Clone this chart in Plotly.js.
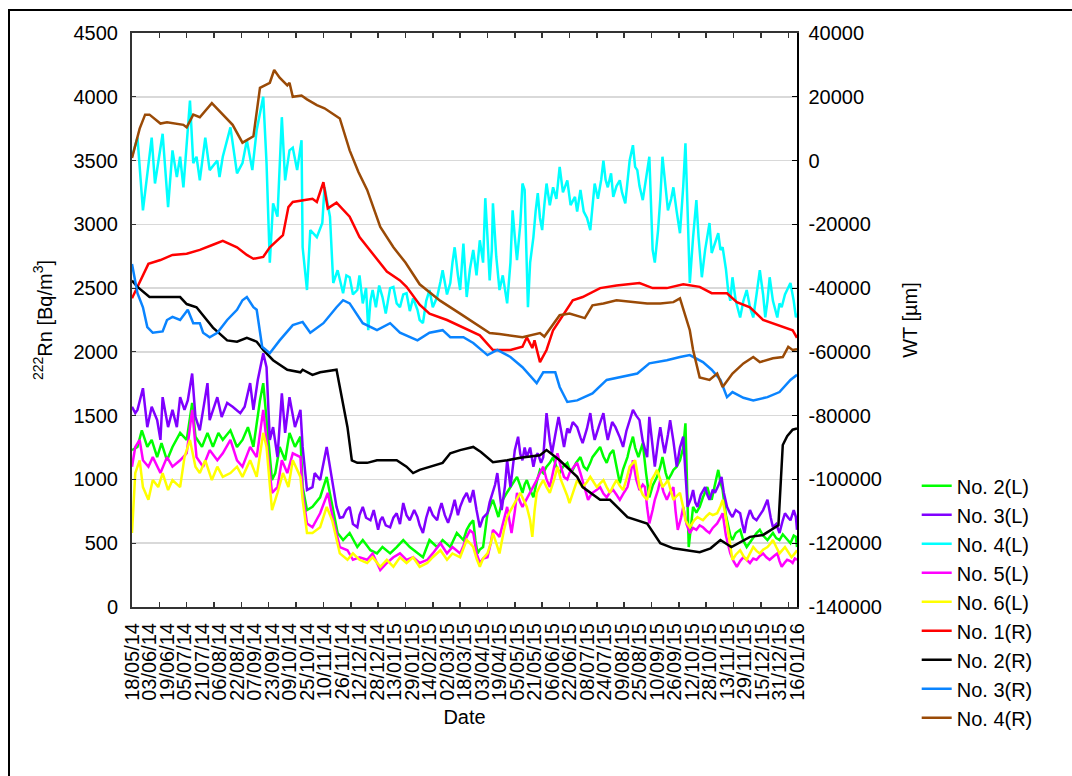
<!DOCTYPE html>
<html><head><meta charset="utf-8">
<script src="https://cdn.plot.ly/plotly-3.0.1.min.js"></script>
<style>
html,body{margin:0;padding:0;background:#fff;overflow:hidden;}
#chart{position:absolute;left:0;top:0;width:1072px;height:776px;}
#frame{position:absolute;left:8px;top:9px;width:1100px;height:800px;border:2px solid #000;box-sizing:border-box;pointer-events:none;}
</style></head><body>
<div id="chart"></div><div id="frame"></div>
<script>
// Dates: day offsets from 18/05/14
const startDate = '2014-05-18';
const endDate = '2016-01-16';
const xTickLabels = ['18/05/14','03/06/14','19/06/14','05/07/14','21/07/14','06/08/14','22/08/14','07/09/14','23/09/14','09/10/14','25/10/14','10/11/14','26/11/14','12/12/14','28/12/14','13/01/15','29/01/15','14/02/15','02/03/15','18/03/15','03/04/15','19/04/15','05/05/15','21/05/15','06/06/15','22/06/15','08/07/15','24/07/15','09/08/15','25/08/15','10/09/15','26/09/15','12/10/15','28/10/15','13/11/15','29/11/15','15/12/15','31/12/15','16/01/16'];
const wtTickLabels = ['-140000','-120000','-100000','-80000','-60000','-40000','-20000','0','20000','40000'];

// [day offset, 222Rn Bq/m3]
const rn2L = [[0,1230],[5,1255],[9,1385],[14,1255],[18,1310],[23,1175],[27,1285],[32,1150],[37,1255],[44,1365],[50,1310],[55,1600],[58,1335],[64,1255],[69,1365],[74,1255],[79,1365],[83,1310],[90,1385],[96,1255],[101,1310],[106,1410],[111,1255],[117,1620],[120,1755],[123,1490],[128,995],[131,1050],[135,1255],[140,1150],[144,1365],[149,1255],[154,1335],[156,940],[160,760],[165,785],[172,860],[178,1020],[183,785],[188,580],[193,525],[199,580],[206,470],[211,525],[218,445],[224,420],[229,470],[236,420],[242,470],[248,525],[254,470],[261,420],[266,390],[272,525],[279,470],[284,525],[291,470],[297,580],
  [303,525],[306,605],[309,650],[312,680],[314,520],[316,420],[318,450],[321,470],[323,600],[325,735],[328,800],[330,840],[333,760],[335,705],[337,780],[339,840],[343,900],[346,940],[349,980],[352,1020],[355,950],[357,895],[359,960],[361,995],[364,920],[367,860],[370,980],[373,1075],[376,1050],[379,1100],[382,1130],[385,1175],[388,1100],[391,1050],[394,1100],[398,1130],[400,1080],[403,1075],[406,1130],[410,1175],[413,1100],[416,1075],[419,1130],[421,1175],[425,1220],[428,1255],[431,1180],[434,1130],[437,1200],[440,1230],[443,1100],[446,970],[449,1080],[453,1175],[455,1250],[458,1335],[460,1250],[463,1175],[465,1230],[467,1285],[470,1050],[473,860],[476,950],[480,1020],[483,1100],[485,1175],[488,1050],[490,995],[493,1040],[495,1075],[498,1100],[501,1150],[504,1250],[506,1440],[509,470],[511,650],[513,785],[516,740],[519,785],[522,860],[526,940],[528,880],[530,840],[533,960],[536,1075],[538,980],[540,917],[543,720],[545,625],[547,560],[549,525],[552,580],[556,605],[559,520],[562,470],[565,510],[568,550],[571,580],[574,605],[577,560],[581,525],[584,560],[586,580],[589,540],[592,525],[595,570],[597,550],[600,520],[602,500],[605,560],[607,550],[608,470]];
const rn3L = [[0,1570],[3,1520],[5,1545],[10,1715],[14,1410],[18,1570],[23,1465],[26,1310],[28,1645],[33,1410],[37,1545],[41,1410],[44,1645],[48,1545],[51,1620],[55,1830],[58,1490],[62,1385],[69,1755],[71,1465],[78,1645],[82,1490],[87,1600],[92,1570],[99,1520],[103,1570],[108,1755],[111,1545],[115,1780],[120,1990],[123,1880],[126,1310],[129,1410],[133,1175],[137,1675],[140,1365],[144,1645],[149,1410],[154,1545],[156,1255],[160,917],[165,940],[167,1050],[172,995],[178,1255],[183,995],[187,785],[190,700],[193,705],[196,760],[199,785],[202,650],[206,625],[208,720],[211,785],[214,700],[218,680],[221,760],[225,605],[227,680],[229,705],[232,640],[236,625],[239,700],[242,735],[245,650],[248,815],[251,720],[254,680],[258,760],[261,705],[263,640],[266,580],[269,700],[272,785],[275,720],[279,680],[281,760],[283,815],[286,720],[289,660],[292,740],[295,840],[298,720],
  [300,785],[303,850],[306,895],[309,820],[312,917],[315,760],[318,625],[321,700],[325,735],[327,820],[330,895],[332,960],[334,1050],[336,900],[338,760],[341,950],[343,1150],[346,940],[348,1100],[350,1230],[353,1335],[355,1200],[357,1150],[359,1250],[361,1175],[364,1250],[367,1100],[369,1180],[371,1205],[374,1130],[376,1175],[379,1520],[382,1300],[384,1205],[387,1350],[390,1490],[393,1350],[395,1255],[398,1400],[400,1365],[403,1450],[407,1410],[410,1330],[412,1285],[416,1400],[419,1520],[421,1400],[423,1310],[427,1420],[431,1520],[433,1400],[435,1310],[439,1450],[442,1410],[446,1330],[449,1255],[452,1380],[455,1465],[458,1545],[461,1500],[464,1465],[467,1300],[471,1175],[473,1490],[476,1250],[478,1100],[481,1300],[483,1410],[485,1300],[487,1205],[490,1350],[492,1465],[495,1300],[498,1100],[501,1250],[504,1335],[506,1050],[508,785],[511,850],[513,917],[515,820],[517,785],[520,880],[524,940],[526,880],[528,840],[531,920],[533,895],[536,950],[539,1020],[541,900],[544,785],[547,730],[549,705],[552,760],[556,735],[558,650],[560,580],[562,680],[565,760],[568,700],[571,680],[574,720],[577,760],[579,800],[581,840],[584,700],[586,625],[589,650],[592,580],[595,680],[597,735],[600,700],[602,680],[605,760],[607,705],[608,605]];
const rn4L = [[0,3530],[5,3680],[10,3110],[15,3480],[18,3680],[21,3320],[28,3710],[33,3135],[37,3580],[41,3370],[44,3530],[47,3290],[53,3970],[56,3480],[59,3530],[62,3345],[67,3680],[71,3425],[78,3500],[80,3370],[83,3530],[90,3760],[96,3400],[101,3480],[105,3660],[110,3425],[114,3740],[120,4000],[123,3480],[126,2700],[129,3165],[133,3060],[137,3840],[140,3345],[144,3580],[147,3600],[151,3425],[155,3660],[156,2820],[160,2485],[163,2955],[169,2900],[174,3010],[176,3290],[181,3060],[184,2540],[188,2640],[193,2460],[196,2600],[199,2585],[202,2450],[206,2485],[208,2600],[211,2380],[214,2500],[216,2170],[218,2400],[220,2485],[223,2350],[226,2520],[229,2430],[232,2300],[236,2500],[239,2510],[242,2380],[245,2350],[248,2450],[251,2460],[254,2320],[257,2420],[261,2330],[263,2250],[266,2225],[269,2400],[272,2485],[275,2350],[279,2430],[282,2550],[284,2640],[288,2450],[291,2540],[293,2700],[295,2820],[298,2600],[300,2485],[303,2850],
  [306,2430],[309,2650],[312,2800],[315,2600],[318,2875],[321,2700],[323,3205],[325,2900],[327,2560],[329,2800],[330,3165],[333,2750],[336,2485],[339,2600],[343,2380],[346,2700],[348,3110],[350,2900],[352,2720],[355,3000],[357,3320],[359,3270],[362,2350],[364,2700],[367,2900],[369,3100],[371,3245],[373,3050],[375,2955],[377,3150],[379,3320],[382,3150],[385,3290],[388,3200],[391,3450],[394,3250],[398,3345],[401,3150],[405,3215],[407,3100],[410,3270],[413,3100],[416,3050],[419,2955],[421,3150],[423,3320],[426,3200],[429,3350],[431,3500],[433,3350],[435,3290],[438,3400],[440,3215],[443,3300],[446,3345],[448,3250],[451,3165],[453,3350],[455,3500],[458,3620],[460,3450],[462,3425],[464,3300],[467,3190],[470,3350],[473,3530],[476,2800],[478,2700],[481,2955],[483,3200],[485,3530],[488,3300],[490,3110],[493,3200],[495,3290],[498,3100],[501,2930],[504,3300],[506,3635],[508,3100],[510,2540],[513,2900],[516,3190],[518,2900],[521,2585],[524,2800],[526,2900],[528,3010],[530,2775],[533,2850],[536,2930],[538,2800],[540,2820],[543,2650],[545,2485],[547,2400],[549,2585],[552,2400],[556,2270],[559,2400],[562,2485],[565,2350],[568,2270],[571,2450],[574,2640],[577,2450],[579,2270],[581,2400],[583,2585],[586,2400],[590,2270],[592,2380],[594,2350],[597,2450],[600,2500],[602,2540],[605,2400],[607,2270],[608,2300]];
const rn5L = [[0,1100],[3,1255],[7,1310],[10,1150],[15,1100],[19,1175],[26,1050],[32,1175],[37,1100],[44,1150],[50,1205],[55,1545],[59,1175],[65,1100],[71,1230],[78,1150],[83,1205],[90,1310],[96,1150],[101,1100],[108,1255],[114,1175],[120,1545],[123,1285],[128,895],[133,940],[137,1150],[142,1050],[147,1205],[154,1175],[156,895],[160,655],[165,625],[172,735],[179,895],[184,680],[190,470],[197,445],[202,370],[208,390],[215,370],[220,420],[227,290],[233,345],[239,390],[245,420],[251,370],[257,390],[263,345],[270,370],[275,420],[282,500],[288,420],[293,470],
  [300,420],[303,480],[306,550],[309,600],[312,580],[315,420],[318,345],[321,380],[325,390],[328,500],[330,605],[333,580],[336,550],[339,650],[343,785],[345,680],[347,580],[350,750],[352,895],[355,820],[357,785],[361,850],[364,895],[367,950],[370,995],[373,1050],[376,1100],[379,1000],[382,940],[386,1100],[389,1205],[392,1100],[395,1020],[398,1000],[400,1050],[404,1100],[407,1130],[410,1050],[412,995],[415,900],[417,840],[419,870],[421,895],[425,920],[428,940],[431,890],[434,860],[437,900],[440,917],[443,880],[446,840],[450,900],[453,940],[456,1050],[458,1150],[461,1000],[464,917],[467,960],[469,940],[471,780],[473,655],[476,760],[478,840],[481,920],[483,995],[486,900],[489,840],[492,900],[495,940],[497,750],[499,605],[502,700],[504,785],[507,650],[510,580],[513,620],[516,605],[519,640],[522,625],[525,600],[528,580],[531,620],[535,655],[538,700],[540,735],[543,560],[547,420],[550,360],[553,315],[556,360],[559,390],[562,370],[565,345],[568,380],[571,370],[574,400],[577,420],[580,390],[583,370],[587,400],[590,420],[592,360],[594,315],[597,350],[599,370],[602,360],[604,345],[606,380],[608,370]];
const rn6L = [[0,580],[3,1050],[7,1150],[10,940],[15,840],[19,995],[24,940],[28,1050],[33,917],[37,995],[44,940],[48,1175],[53,1310],[58,1100],[62,1050],[67,1150],[73,995],[78,1100],[83,1020],[90,1050],[96,1100],[101,1020],[108,1150],[114,1020],[120,1365],[123,1255],[128,760],[133,895],[138,1050],[143,940],[147,1150],[154,1020],[156,840],[160,580],[165,580],[172,625],[178,785],[183,680],[190,420],[197,370],[202,420],[208,370],[215,345],[220,390],[227,315],[233,370],[239,315],[245,390],[251,345],[257,390],[263,315],[270,345],[275,390],[282,445],[288,370],[293,420],
  [300,390],[303,460],[306,525],[309,500],[312,470],[315,380],[318,315],[321,380],[325,420],[328,500],[330,580],[333,500],[336,420],[340,600],[343,705],[345,740],[348,785],[351,840],[355,895],[358,840],[361,785],[364,680],[366,550],[368,750],[370,895],[373,950],[376,995],[379,940],[382,895],[386,1000],[389,1100],[392,1000],[395,940],[398,870],[400,815],[404,920],[407,995],[410,960],[412,940],[416,980],[419,1020],[422,980],[425,940],[428,970],[431,995],[434,940],[437,895],[440,950],[443,995],[446,950],[449,917],[452,1000],[455,1100],[458,1130],[460,1150],[462,1050],[464,940],[467,880],[471,840],[473,920],[475,995],[478,1040],[480,1075],[483,1000],[485,940],[488,970],[490,995],[493,900],[495,840],[498,870],[501,895],[504,780],[506,680],[508,650],[510,625],[514,680],[517,705],[520,690],[522,680],[525,710],[528,735],[531,720],[535,735],[538,790],[540,840],[543,700],[545,580],[547,450],[549,370],[552,410],[556,445],[559,400],[562,370],[565,420],[568,470],[571,440],[574,420],[577,450],[581,470],[584,500],[586,525],[589,470],[592,420],[595,450],[597,470],[600,430],[603,390],[606,420],[608,445]];

// [day offset, WT in µm]
const wt1R = [[0,-43200],[7,-38000],[15,-32400],[26,-31200],[37,-29600],[50,-29200],[62,-28000],[74,-26400],[83,-25200],[96,-27200],[105,-29600],[111,-30800],[120,-30200],[126,-27200],[138,-23400],[143,-14600],[147,-13000],[165,-12000],[169,-13000],[175,-6800],[179,-15000],[187,-13200],[199,-17600],[208,-24000],[220,-29200],[233,-34800],[245,-37600],[251,-39600],[263,-45200],[272,-48000],[288,-50000],[303,-52400],[318,-54800],[330,-59400],[346,-59400],[357,-58400],[361,-55400],[366,-58800],[368,-56400],[373,-63200],[379,-59400],[385,-53200],[395,-48000],[403,-43800],[412,-42800],[428,-40000],[443,-39200],[464,-38400],[476,-40000],[489,-40000],[504,-38800],[519,-39600],[530,-41600],[544,-41600],[553,-44400],[565,-46000],[577,-50000],[590,-51600],[604,-53200],[608,-55600]];
const wt2R = [[0,-37600],[5,-39600],[16,-42800],[44,-42800],[50,-45000],[59,-46000],[74,-52400],[87,-56400],[96,-56800],[105,-55600],[114,-56800],[120,-59400],[129,-62600],[142,-65600],[154,-66400],[156,-65600],[165,-67200],[172,-66400],[187,-65600],[190,-71000],[197,-83600],[201,-94000],[206,-94800],[215,-94800],[224,-94000],[233,-94000],[242,-94000],[251,-96000],[257,-98000],[263,-97000],[272,-96000],[284,-94800],[291,-91800],[300,-90800],[312,-89800],[319,-91400],[330,-94600],[343,-94000],[355,-93200],[373,-92400],[379,-90800],[391,-94000],[407,-99200],[412,-102400],[428,-106400],[437,-106400],[453,-111800],[471,-113800],[483,-120000],[495,-121600],[519,-122800],[529,-121600],[538,-119000],[548,-121200],[565,-118000],[577,-117400],[591,-114400],[595,-89200],[599,-86400],[604,-84400],[608,-84000]];
const wt3R = [[0,-32400],[5,-41600],[10,-46000],[14,-52200],[19,-54000],[28,-53600],[32,-50000],[37,-49000],[44,-50000],[51,-46800],[56,-51000],[62,-51000],[65,-54000],[71,-55400],[78,-54000],[87,-50000],[96,-46800],[101,-43800],[105,-42800],[111,-46000],[114,-46800],[119,-58400],[126,-60400],[135,-56400],[147,-51600],[156,-50600],[163,-54000],[175,-51000],[187,-46000],[193,-43800],[199,-44800],[211,-51000],[224,-53200],[236,-51000],[245,-54000],[261,-56400],[272,-54000],[284,-53200],[291,-55400],[303,-55400],[312,-57200],[325,-61000],[334,-59400],[346,-61600],[357,-64800],[370,-69800],[376,-66400],[387,-66400],[391,-71000],[398,-75700],[407,-75200],[421,-73000],[434,-68800],[446,-68000],[462,-66800],[473,-63600],[489,-62600],[501,-61600],[510,-61000],[522,-63200],[530,-65600],[538,-68800],[544,-74200],[549,-72600],[559,-74400],[568,-75200],[581,-74200],[592,-72600],[602,-68800],[608,-67200]];
const wt4R = [[0,800],[7,10000],[12,14400],[16,14400],[26,11600],[32,12000],[47,11200],[50,10400],[56,14400],[62,13600],[73,18000],[87,13200],[92,11200],[101,5600],[111,7600],[117,22800],[123,24000],[126,24400],[130,28400],[135,26000],[142,23600],[144,24400],[147,20000],[155,20400],[160,19200],[169,17400],[176,16400],[190,13200],[199,3200],[207,-3600],[215,-9200],[227,-20800],[239,-27200],[250,-32000],[263,-38800],[282,-44000],[300,-48000],[327,-54100],[336,-54400],[357,-55400],[373,-54100],[377,-55200],[391,-48500],[400,-48000],[414,-49400],[421,-45400],[431,-44800],[443,-43800],[471,-44800],[483,-44800],[495,-44400],[501,-43200],[510,-53200],[513,-59400],[519,-68000],[528,-68800],[535,-66800],[540,-71000],[549,-66800],[559,-63600],[568,-61600],[574,-63200],[586,-62000],[595,-61600],[600,-58400],[604,-59400],[608,-59200]];

const t0 = Date.UTC(2014,4,18);
function dayToDate(d){ return new Date(t0 + d*86400000).toISOString().slice(0,10); }
function labelToDate(s){ const p=s.split('/'); return '20'+p[2]+'-'+p[1]+'-'+p[0]; }

const seriesL = [
  {name:'No. 2(L)', data:rn2L, color:'#00ff00'},
  {name:'No. 3(L)', data:rn3L, color:'#8000ff'},
  {name:'No. 4(L)', data:rn4L, color:'#00ffff'},
  {name:'No. 5(L)', data:rn5L, color:'#ff00ff'},
  {name:'No. 6(L)', data:rn6L, color:'#ffff00'}
];
const seriesR = [
  {name:'No. 1(R)', data:wt1R, color:'#ff0000'},
  {name:'No. 2(R)', data:wt2R, color:'#000000'},
  {name:'No. 3(R)', data:wt3R, color:'#0a84ff'},
  {name:'No. 4(R)', data:wt4R, color:'#9a4a06'}
];
const traces = [];
seriesL.forEach(s=>traces.push({type:'scatter',mode:'lines',name:s.name,x:s.data.map(p=>dayToDate(p[0])),y:s.data.map(p=>p[1]),line:{color:s.color,width:2.5},yaxis:'y',xaxis:'x'}));
seriesR.forEach(s=>traces.push({type:'scatter',mode:'lines',name:s.name,x:s.data.map(p=>dayToDate(p[0])),y:s.data.map(p=>p[1]),line:{color:s.color,width:2.5},yaxis:'y2',xaxis:'x'}));
// carrier for the tick-mark axis
traces.push({type:'scatter',mode:'lines',x:[startDate,endDate],y:[null,null],xaxis:'x2',yaxis:'y',showlegend:false,hoverinfo:'skip'});

const minorTicks = [];
for(let d=0; d<=608; d+=25) minorTicks.push(dayToDate(d));

const layout = {
  width:1072, height:776,
  margin:{l:132, r:275, t:33, b:169, pad:0},
  paper_bgcolor:'rgba(0,0,0,0)', plot_bgcolor:'#ffffff',
  font:{family:'"Liberation Sans", Arial, sans-serif', size:20, color:'#000'},
  showlegend:true,
  legend:{x:1.18, xanchor:'left', y:0.245, yanchor:'top', bgcolor:'rgba(0,0,0,0)', font:{size:20}, itemwidth:30},
  xaxis:{type:'date', range:[startDate,endDate], tickmode:'array', tickvals:xTickLabels.map(labelToDate), ticktext:xTickLabels,
         ticks:'', tickangle:-90, ticklabelstandoff:6, showgrid:false, zeroline:false,
         showline:true, linecolor:'#333', linewidth:2, mirror:true,
         title:{text:'Date', standoff:10, font:{size:20}}},
  xaxis2:{type:'date', overlaying:'x', anchor:'y', range:[startDate,endDate], tickmode:'array', tickvals:minorTicks,
          ticks:'inside', ticklen:5, tickwidth:1.5, tickcolor:'#333', showticklabels:false, showgrid:false, zeroline:false,
          showline:true, linecolor:'#333', linewidth:2, mirror:'ticks'},
  yaxis:{range:[0,4500], tickmode:'linear', tick0:0, dtick:500, ticks:'inside', ticklen:4, tickcolor:'#333',
         ticklabelstandoff:8, showgrid:true, gridcolor:'#d9d9d9', gridwidth:1.5, zeroline:false,
         showline:true, linecolor:'#333', linewidth:2,
         title:{text:'<sup>222</sup>Rn [Bq/m<sup>3</sup>]', standoff:16, font:{size:20}}},
  yaxis2:{overlaying:'y', side:'right', range:[-140000,40000], tickmode:'array', tickvals:wtTickLabels.map(Number), ticktext:wtTickLabels,
          ticks:'inside', ticklen:5, tickcolor:'#000', ticklabelstandoff:6, showgrid:false, zeroline:false,
          showline:true, linecolor:'#000', linewidth:1.5,
          title:{text:'WT [µm]', standoff:22, font:{size:20}}}
};
Plotly.newPlot('chart', traces, layout, {displayModeBar:false, staticPlot:true});
</script></body></html>
